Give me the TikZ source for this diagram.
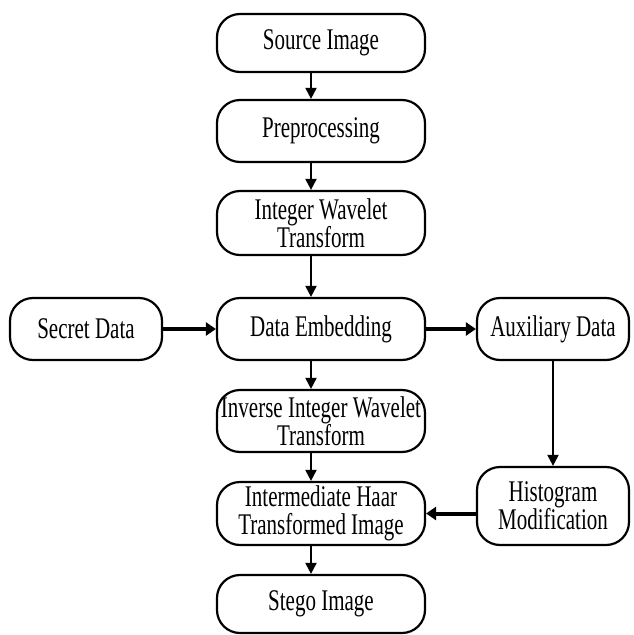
\documentclass[tikz,border=0pt]{standalone}
\usepackage{fontspec}
\setmainfont{Liberation Serif}[FakeStretch=0.7]
\usetikzlibrary{arrows.meta}
\tikzset{
  box/.style={draw, line width=2.2pt, rounded corners=23pt, inner sep=0pt, align=center,
    font=\fontsize{30}{28}\selectfont},
  mainbox/.style={box, minimum width=208pt},
  sidebox/.style={box, minimum width=152pt},
  arr/.style={line width=2pt, -{Triangle[length=11pt,width=11pt]}},
  thickarr/.style={line width=4pt, -{Triangle[length=10pt,width=13pt]}}
}
\begin{document}
\begin{tikzpicture}[x=1pt,y=-1pt]
\useasboundingbox[fill=white] (0,0) rectangle (633,635);
\node[mainbox, minimum height=58pt] (src) at (321,43) {Source Image};
\node[mainbox, minimum height=62pt] (pre) at (321,131) {Preprocessing};
\node[mainbox, minimum height=64pt] (iwt) at (321,223) {Integer Wavelet\\Transform};
\node[mainbox, minimum height=62pt] (de) at (321,329) {Data Embedding};
\node[sidebox, minimum height=62pt] (sec) at (86,329) {Secret Data};
\node[sidebox, minimum height=62pt] (aux) at (553,329) {Auxiliary Data};
\node[mainbox, minimum height=62pt] (inv) at (321,421) {Inverse Integer Wavelet\\Transform};
\node[mainbox, minimum height=63pt] (int) at (321,513.5) {Intermediate Haar\\Transformed Image};
\node[mainbox, minimum height=58pt] (stg) at (321,604) {Stego Image};
\node[sidebox, minimum height=78pt] (his) at (553,506) {Histogram\\Modification};
\coordinate (colx) at (311,0);
\draw[arr] (src.south -| colx) -- (pre.north -| colx);
\draw[arr] (pre.south -| colx) -- (iwt.north -| colx);
\draw[arr] (iwt.south -| colx) -- (de.north -| colx);
\draw[arr] (de.south -| colx) -- (inv.north -| colx);
\draw[arr] (inv.south -| colx) -- (int.north -| colx);
\draw[arr] (int.south -| colx) -- (stg.north -| colx);
\draw[thickarr] (sec.east) -- (de.west);
\draw[thickarr] (de.east) -- (aux.west);
\draw[arr] (aux.south) -- (his.north);
\draw[thickarr] (int.east -| his.west) -- (int.east);
\end{tikzpicture}
\end{document}
